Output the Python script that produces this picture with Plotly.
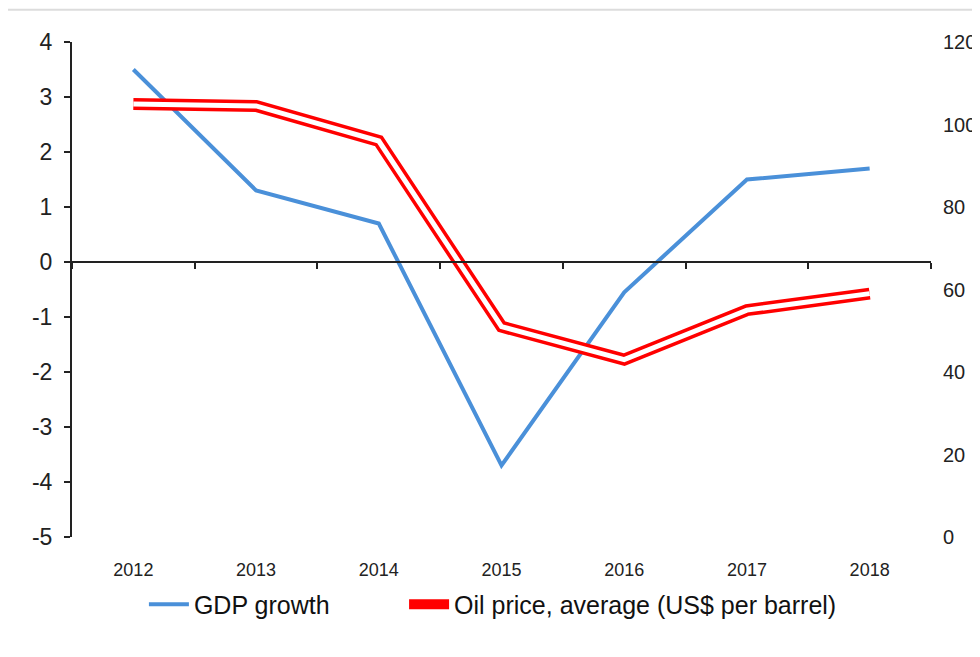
import plotly.graph_objects as go

# data
years = ["2012", "2013", "2014", "2015", "2016", "2017", "2018"]
gdp_growth = [3.5, 1.3, 0.7, -3.7, -0.55, 1.5, 1.7]
oil_price = [105, 104.5, 96, 51, 43, 55, 59]

left_ticks = [4, 3, 2, 1, 0, -1, -2, -3, -4, -5]
left_labels = ["4", "3", "2", "1", "0", "-1", "-2", "-3", "-4", "-5"]
right_ticks = [0, 20, 40, 60, 80, 100, 120]

font = "Liberation Sans, Arial"
ink = "#222"
pad = "\u00a0" * 10

fig = go.Figure()

fig.add_trace(go.Scatter(
    x=years, y=gdp_growth, name="GDP growth" + pad,
    mode="lines", line=dict(color="#4a90d9", width=4),
    xaxis="x", yaxis="y",
))

# oil price: red outline with a white core, on the zero-line axis pair
fig.add_trace(go.Scatter(
    x=years, y=oil_price, name="Oil price, average (US$ per barrel)", mode="lines",
    line=dict(color="#ff0000", width=12),
    xaxis="x2", yaxis="y2",
))
fig.add_trace(go.Scatter(
    x=years, y=oil_price, mode="lines", showlegend=False, hoverinfo="skip",
    line=dict(color="white", width=5),
    xaxis="x2", yaxis="y2",
))

fig.update_layout(
    width=980, height=657,
    margin=dict(l=64, r=44, t=34, b=128),
    paper_bgcolor="white", plot_bgcolor="white",
    font=dict(family=font, color=ink, size=18),
    showlegend=True,
    legend=dict(
        orientation="h", x=0.49, xanchor="center", y=-0.09, yanchor="top",
        font=dict(size=25, color="#111"), itemwidth=40,
    ),
    xaxis=dict(
        type="category", categoryarray=years, range=[-0.5, 6.5],
        showline=False, showgrid=False, zeroline=False, ticks="",
        ticklabelstandoff=20,
        tickfont=dict(size=18, color=ink),
    ),
    xaxis2=dict(
        type="category", categoryarray=years, range=[-0.5, 6.5],
        overlaying="x", anchor="free", position=5 / 9,
        showline=True, linecolor=ink, linewidth=2,
        ticks="outside", tickson="boundaries", ticklen=6, tickwidth=2, tickcolor=ink,
        showticklabels=False, showgrid=False, zeroline=False,
    ),
    yaxis=dict(
        range=[-5, 4], tickvals=left_ticks, ticktext=left_labels,
        showline=True, linecolor=ink, linewidth=2,
        ticks="outside", ticklen=6, tickwidth=2, tickcolor=ink,
        ticklabelstandoff=7,
        showgrid=False, zeroline=False,
        tickfont=dict(size=23, color=ink),
    ),
    yaxis2=dict(
        range=[0, 120], tickvals=right_ticks,
        overlaying="y", side="right", anchor="x2",
        showline=False, ticks="", showgrid=False, zeroline=False,
        ticklabelstandoff=11,
        tickfont=dict(size=20, color=ink),
    ),
    shapes=[dict(
        type="line", xref="paper", yref="paper",
        x0=-0.075, x1=1.07, y0=1.065, y1=1.065,
        line=dict(color="#dcdcdc", width=2),
    )],
)

fig.write_html("out.html")
